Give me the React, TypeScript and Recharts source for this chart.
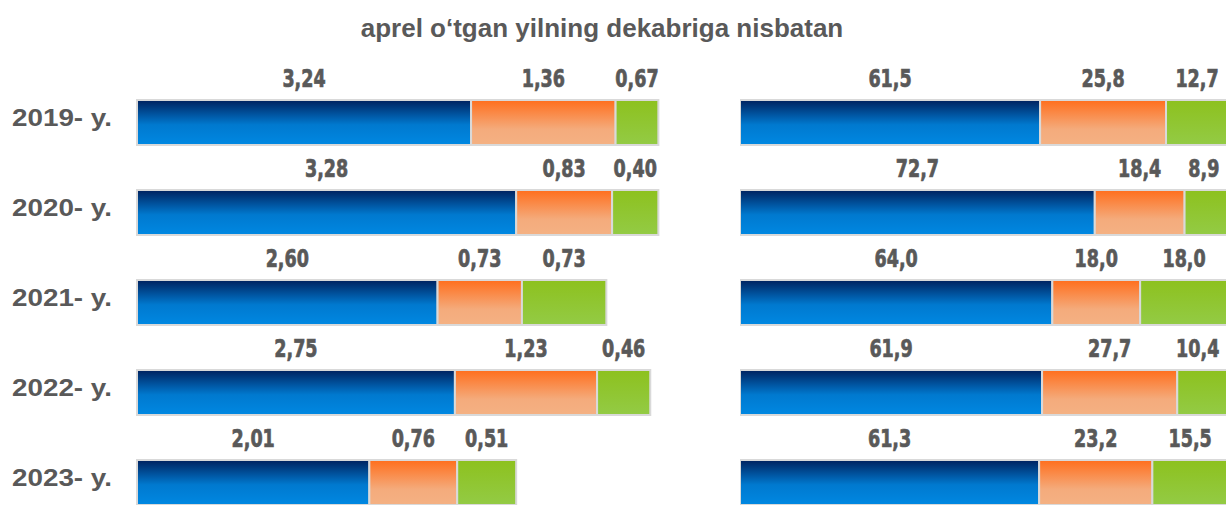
import { Bar, BarChart, LabelList, XAxis, YAxis } from "recharts";

// Years down the side, three shares per year (blue / orange / green).
const YEARS = ["2019- y.", "2020- y.", "2021- y.", "2022- y.", "2023- y."];

// Left panel: printed values
const LEFT_BLUE = [3.24, 3.28, 2.6, 2.75, 2.01];
const LEFT_ORANGE = [1.36, 0.83, 0.73, 1.23, 0.76];
const LEFT_GREEN = [0.67, 0.4, 0.73, 0.46, 0.51];

// Left panel: bar lengths as drawn (2019 row is drawn shorter than its labels)
const LEFT_BLUE_BAR = [2.89, 3.28, 2.6, 2.75, 2.01];
const LEFT_ORANGE_BAR = [1.25, 0.83, 0.73, 1.23, 0.76];
const LEFT_GREEN_BAR = [0.37, 0.4, 0.73, 0.46, 0.51];

// Right panel: shares, %
const RIGHT_BLUE = [61.5, 72.7, 64.0, 61.9, 61.3];
const RIGHT_ORANGE = [25.8, 18.4, 18.0, 27.7, 23.2];
const RIGHT_GREEN = [12.7, 8.9, 18.0, 10.4, 15.5];

const TEXT = "#595959";
const BORDER = "#d9d9d9";
const NARROW = "'Liberation Sans Narrow', 'Arial Narrow', 'DejaVu Sans Condensed', sans-serif";
const ARIAL = "'Liberation Sans', Arial, sans-serif";

const fmt = (v: number, d: number) => v.toFixed(d).replace(".", ",");

const leftData = YEARS.map((year, i) => ({
  year,
  blue: LEFT_BLUE_BAR[i],
  orange: LEFT_ORANGE_BAR[i],
  green: LEFT_GREEN_BAR[i],
  blueLabel: fmt(LEFT_BLUE[i], 2),
  orangeLabel: fmt(LEFT_ORANGE[i], 2),
  greenLabel: fmt(LEFT_GREEN[i], 2),
}));

const rightData = YEARS.map((year, i) => ({
  year,
  blue: RIGHT_BLUE[i],
  orange: RIGHT_ORANGE[i],
  green: RIGHT_GREEN[i],
  blueLabel: fmt(RIGHT_BLUE[i], 1),
  orangeLabel: fmt(RIGHT_ORANGE[i], 1),
  greenLabel: fmt(RIGHT_GREEN[i], 1),
}));

function Gradients({ id }: { id: string }) {
  return (
    <defs>
      <linearGradient id={`${id}-blue`} x1="0" y1="0" x2="0" y2="1">
        <stop offset="0%" stopColor="#00215e" />
        <stop offset="55%" stopColor="#0079cf" />
        <stop offset="100%" stopColor="#0088e2" />
      </linearGradient>
      <linearGradient id={`${id}-orange`} x1="0" y1="0" x2="0" y2="1">
        <stop offset="0%" stopColor="#ff6e1c" />
        <stop offset="65%" stopColor="#f4ab7c" />
        <stop offset="100%" stopColor="#f4b183" />
      </linearGradient>
      <linearGradient id={`${id}-green`} x1="0" y1="0" x2="0" y2="1">
        <stop offset="0%" stopColor="#8dc11e" />
        <stop offset="100%" stopColor="#93cb45" />
      </linearGradient>
    </defs>
  );
}

// condensed look: squeeze the glyphs horizontally, like the narrow face of the original
const SQUEEZE = 0.78;
const naturalWidth = (s: string) =>
  s.split("").reduce((w, c) => w + (c === "," ? 7.7 : 15.6), 0);

const makeLabel = (maxX: number) => (props: any) => {
  const { x, y, width, value } = props;
  const s = String(value);
  const w = naturalWidth(s) * SQUEEZE;
  const cx = Math.min(x + width / 2, maxX - w / 2);
  return (
    <text
      transform={`translate(${cx},${y - 13}) scale(${SQUEEZE},1)`}
      x={0}
      y={0}
      textAnchor="middle"
      fill={TEXT}
      stroke={TEXT}
      strokeWidth={0.7}
      fontSize={25}
      fontWeight="bold"
      fontFamily={NARROW}
    >
      {s}
    </text>
  );
};

const YearTick = (props: any) => {
  const { y, payload } = props;
  return (
    <text
      x={12}
      y={y + 4}
      fill={TEXT}
      fontSize={23}
      fontWeight="bold"
      fontFamily={ARIAL}
      textLength={100}
      lengthAdjust="spacingAndGlyphs"
    >
      {payload.value}
    </text>
  );
};

function Segments(id: string, maxX: number) {
  const keys = ["blue", "orange", "green"];
  const label = makeLabel(maxX);
  return keys.map((k) => (
    <Bar
      key={k}
      dataKey={k}
      stackId="s"
      fill={`url(#${id}-${k})`}
      stroke={BORDER}
      strokeWidth={2}
      isAnimationActive={false}
    >
      <LabelList dataKey={`${k}Label`} content={label} />
    </Bar>
  ));
}

export default function App() {
  return (
    <div
      style={{
        position: "absolute",
        left: 0,
        top: 0,
        width: 1226,
        height: 505,
        overflow: "hidden",
        background: "#fff",
      }}
    >
      <div
        style={{
          position: "absolute",
          left: 0,
          top: 13,
          width: 1204,
          textAlign: "center",
          fontFamily: ARIAL,
          fontWeight: "bold",
          fontSize: 26,
          lineHeight: "30px",
          color: TEXT,
        }}
      >
        aprel o‘tgan yilning dekabriga nisbatan
      </div>

      <div style={{ position: "absolute", left: 0, top: 0 }}>
        <BarChart
          layout="vertical"
          width={715}
          height={527}
          data={leftData}
          margin={{ top: 77, right: 0, bottom: 0, left: 0 }}
          barSize={45}
        >
          <Gradients id="l" />
          <XAxis type="number" domain={[0, 5]} hide />
          <YAxis
            type="category"
            dataKey="year"
            width={137}
            axisLine={false}
            tickLine={false}
            tick={<YearTick />}
          />
          {Segments("l", 715)}
        </BarChart>
      </div>

      <div style={{ position: "absolute", left: 740, top: 0 }}>
        <BarChart
          layout="vertical"
          width={488}
          height={527}
          data={rightData}
          margin={{ top: 77, right: 0, bottom: 0, left: 0 }}
          barSize={45}
        >
          <Gradients id="r" />
          <XAxis type="number" domain={[0, 100]} hide />
          <YAxis type="category" dataKey="year" hide />
          {Segments("r", 479)}
        </BarChart>
      </div>
    </div>
  );
}
